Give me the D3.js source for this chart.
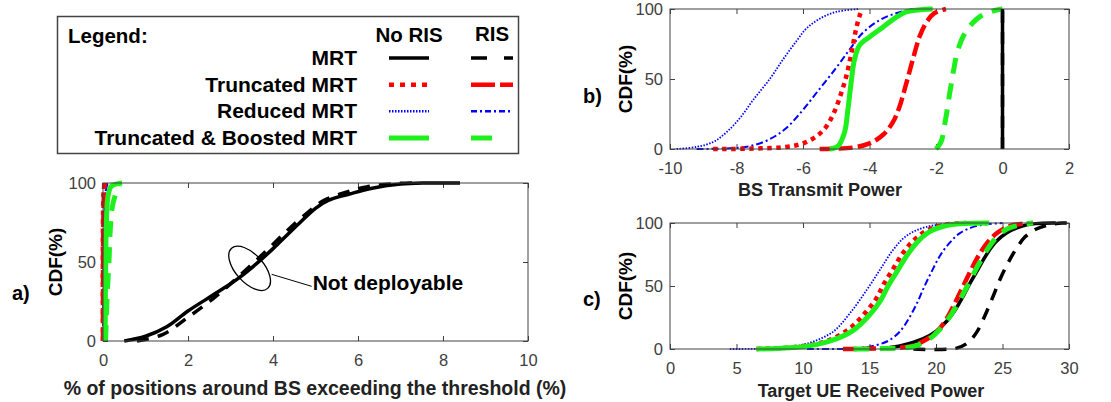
<!DOCTYPE html>
<html>
<head>
<meta charset="utf-8">
<script src="https://d3js.org/d3.v7.min.js"></script>
<style>
  body { margin: 0; background: #fff; }
  text { font-family: "Liberation Sans", Arial, sans-serif; }
</style>
</head>
<body>
<script>
// ---- data ----
var yTicks = [0, 50, 100];
var aXTicks = [0, 2, 4, 6, 8, 10];
var bXTicks = [-10, -8, -6, -4, -2, 0, 2];
var cXTicks = [0, 5, 10, 15, 20, 25, 30];

var legendRows = ["MRT", "Truncated MRT", "Reduced MRT", "Truncated & Boosted MRT"];
var legendCols = ["No RIS", "RIS"];

// a) % of positions exceeding threshold
var aMrt = [[0.5,0],[1.0,3],[1.5,9],[2.0,19],[2.7,31],[3.2,40],[3.7,51],[4.1,61],[4.6,74],[5.0,84],[5.3,89],[5.8,93],[6.3,96.5],[7.0,99.3],[7.6,100],[8.4,100]];
var aMrtRis = [[0.8,0],[1.4,4],[2.0,15],[2.6,27],[3.2,41],[3.8,56],[4.3,69],[4.8,81],[5.2,89],[5.7,94],[6.2,97.5],[6.8,99.5],[7.3,100]];
var aRed = [[0,0],[0.02,70],[0.06,95],[0.1,100]];
var aRedRis = [[0,0],[0.03,75],[0.08,97],[0.12,100]];
var aTrunc = [[0,0],[0,75],[0.02,96],[0.05,100]];
var aTruncRis = [[0,0],[0.01,80],[0.03,100]];
var aTb = [[0.05,0],[0.06,40],[0.08,75],[0.12,92],[0.2,98],[0.45,100]];
var aTbRis = [[0.06,0],[0.1,30],[0.14,50],[0.17,70],[0.22,85],[0.3,93],[0.4,98]];

// b) BS transmit power
var bMrt = [[0,0],[0,100]];
var bMrtRis = [[0,0],[0,100]];
var bRed = [[-9.8,0],[-9.2,1.5],[-8.7,5],[-8.3,12],[-7.9,22],[-7.5,35],[-7.0,50],[-6.6,64],[-6.2,77],[-5.9,86],[-5.5,93],[-5.0,98],[-4.3,100]];
var bRedRis = [[-9.2,0],[-8.2,0.5],[-7.6,2],[-7.0,7],[-6.5,15],[-6.0,28],[-5.5,43],[-5.0,58],[-4.6,71],[-4.2,83],[-3.7,92],[-3.2,97],[-2.7,100]];
var bTrunc = [[-8.7,0],[-7.5,0.3],[-6.5,1.5],[-6.0,4],[-5.6,9],[-5.3,16],[-5.05,27],[-4.85,40],[-4.72,50],[-4.6,62],[-4.5,74],[-4.4,86],[-4.3,95],[-4.22,100]];
var bTruncRis = [[-5.5,0],[-4.5,1],[-4.0,4],[-3.6,10],[-3.3,19],[-3.1,30],[-2.95,42],[-2.8,55],[-2.65,68],[-2.5,80],[-2.3,90],[-2.05,97],[-1.7,100]];
var bTb = [[-5.2,0],[-4.95,2],[-4.75,12],[-4.65,28],[-4.55,48],[-4.45,64],[-4.3,74],[-4.0,80],[-3.6,87],[-3.2,94],[-2.9,98],[-2.4,99.7],[-2.1,100]];
var bTbRis = [[-2.0,0],[-1.85,5],[-1.72,20],[-1.6,38],[-1.48,55],[-1.35,70],[-1.15,82],[-0.9,90],[-0.65,95],[-0.3,98.5],[0,100]];

// c) target UE received power
var cMrt = [[15.8,0],[17.5,3],[19,8],[20,14],[20.8,22],[21.5,32],[22.1,43],[22.6,53],[23.2,64],[23.8,75],[24.5,85],[25.3,92],[26.3,97],[27.5,99.5],[29,100]];
var cMrtRis = [[18.3,0],[21.5,0.5],[22.4,5],[23.1,14],[23.7,27],[24.3,42],[24.8,55],[25.4,68],[26,79],[26.7,89],[27.5,95],[28.5,98.5],[29.5,100],[30,100]];
var cRed = [[4.5,0],[7,0.3],[9.3,2],[10.8,6],[12.3,14],[13.5,28],[14.8,47],[15.8,63],[16.8,79],[17.8,90],[19.3,97],[21.8,100]];
var cRedRis = [[10.3,0],[14,0.5],[15.5,3],[16.5,7],[17.3,14],[18.0,25],[18.6,37],[19.1,49],[19.7,62],[20.3,74],[21.0,84],[21.8,92],[23,97.5],[25,100]];
var cTrunc = [[6.5,0],[9,1.2],[11,4],[12.4,9],[13.6,17],[14.7,29],[15.5,40],[16.1,52],[16.8,64],[17.5,76],[18.3,86],[19.3,94],[20.6,98.5],[22.3,100]];
var cTruncRis = [[13,0],[16,0.5],[18,2],[19,6],[20,13],[20.8,24],[21.4,36],[22,49],[22.6,62],[23.2,74],[23.9,85],[24.7,93],[25.7,98],[27.3,100]];
var cTb = [[6.5,0],[9,1],[11,3.5],[12.5,8],[13.8,15],[15,27],[15.8,38],[16.4,50],[17.1,62],[17.8,74],[18.6,85],[19.5,93],[20.8,98],[22.5,99.7],[24,100]];
var cTbRis = [[13.8,0],[16,0.3],[18.3,2],[19.5,8],[20.5,18],[21.3,30],[22,43],[22.6,55],[23.2,67],[23.8,78],[24.5,88],[25.3,95],[26.3,98.5],[27.3,100]];

// ---- styles ----
var GREEN = "#1ef01e";
var styles = {
  mrt:      { color: "#000", w: 3.5, dash: null,      legDash: null },
  mrtRis:   { color: "#000", w: 3.5, dash: "12,9",    legDash: "16,17" },
  red:      { color: "#0000ff", w: 1.8, dash: "1.5,1.5", legDash: "1.5,1.5" },
  redRis:   { color: "#0000ff", w: 2, dash: "7,3,2,3", legDash: "6,3,2,3" },
  trunc:    { color: "#ff0000", w: 4.5, dash: "4.5,4.5", legDash: "5,6" },
  truncRis: { color: "#ff0000", w: 4.5, dash: "14,5",   legDash: "24,5" },
  tb:       { color: GREEN, w: 5, dash: null,        legDash: null },
  tbRis:    { color: GREEN, w: 5, dash: "16,10",     legDash: "21,22" }
};

var svg = d3.select("body").append("svg")
  .attr("width", 1111).attr("height", 402);

var AX = "#404040";

function drawPanel(p) {
  var x = d3.scaleLinear().domain(p.xdom).range([p.left, p.right]);
  var y = d3.scaleLinear().domain([0, 100]).range([p.bottom, p.top]);
  var g = svg.append("g");
  var plain = function (d) { return String(d); };

  // ticks on all four sides, pointing inwards
  var axes = [
    [d3.axisBottom(x).tickValues(p.xticks).tickSizeInner(-5).tickPadding(13).tickFormat(plain), "translate(0," + p.bottom + ")"],
    [d3.axisTop(x).tickValues(p.xticks).tickSizeInner(-5).tickFormat(""), "translate(0," + p.top + ")"],
    [d3.axisLeft(y).tickValues(yTicks).tickSizeInner(-5).tickPadding(7).tickFormat(plain), "translate(" + p.left + ",0)"],
    [d3.axisRight(y).tickValues(yTicks).tickSizeInner(-5).tickFormat(""), "translate(" + p.right + ",0)"]
  ];
  axes.forEach(function (a) {
    var ag = g.append("g").attr("transform", a[1]).call(a[0].tickSizeOuter(0));
    ag.select(".domain").remove();
    ag.selectAll("line").attr("stroke", AX);
    ag.selectAll("text").attr("fill", AX).style("font-size", "16.5px")
      .style("font-family", "'Liberation Sans', Arial, sans-serif");
  });

  var line = d3.line()
    .x(function (d) { return x(d[0]); })
    .y(function (d) { return y(d[1]); })
    .curve(d3.curveCatmullRom.alpha(0.5));

  p.series.forEach(function (s) {
    var st = styles[s[1]];
    g.append("path")
      .attr("d", line(s[0]))
      .attr("fill", "none")
      .attr("stroke", st.color)
      .attr("stroke-width", st.w)
      .attr("stroke-dasharray", st.dash);
  });

  g.append("rect")
    .attr("x", p.left).attr("y", p.top)
    .attr("width", p.right - p.left).attr("height", p.bottom - p.top)
    .attr("fill", "none").attr("stroke", AX).attr("stroke-width", 1);

  // y title + panel label
  g.append("text")
    .attr("transform", "translate(" + p.yTitleX + "," + (p.top + p.bottom) / 2 + ") rotate(-90)")
    .attr("text-anchor", "middle")
    .style("font-weight", "bold").style("font-size", "19px")
    .text("CDF(%)");
  g.append("text")
    .attr("x", p.labelX).attr("y", p.labelY)
    .style("font-weight", "bold").style("font-size", "20px")
    .text(p.label);
  g.append("text")
    .attr("x", p.xTitleX).attr("y", p.xTitleY)
    .attr("text-anchor", "middle")
    .style("font-weight", "bold").style("font-size", p.xTitleSize + "px")
    .attr("fill", "#222")
    .text(p.xTitle);

  return { g: g, x: x, y: y };
}

var pa = drawPanel({
  left: 103, right: 528, top: 183, bottom: 341, xdom: [0, 10], xticks: aXTicks,
  yTitleX: 62, label: "a)", labelX: 12, labelY: 300,
  xTitle: "% of positions around BS exceeding the threshold (%)", xTitleX: 315, xTitleY: 395, xTitleSize: 19.5,
  series: [[aRed, "red"], [aRedRis, "redRis"], [aTrunc, "trunc"], [aTruncRis, "truncRis"],
           [aTb, "tb"], [aTbRis, "tbRis"], [aMrt, "mrt"], [aMrtRis, "mrtRis"]]
});

drawPanel({
  left: 670, right: 1069, top: 9, bottom: 149, xdom: [-10, 2], xticks: bXTicks,
  yTitleX: 632, label: "b)", labelX: 583, labelY: 103,
  xTitle: "BS Transmit Power", xTitleX: 820, xTitleY: 196, xTitleSize: 18,
  series: [[bMrtRis, "mrtRis"], [bRed, "red"], [bRedRis, "redRis"], [bTrunc, "trunc"],
           [bTruncRis, "truncRis"], [bTb, "tb"], [bTbRis, "tbRis"], [bMrt, "mrt"]]
});

drawPanel({
  left: 670, right: 1069, top: 223, bottom: 349, xdom: [0, 30], xticks: cXTicks,
  yTitleX: 632, label: "c)", labelX: 583, labelY: 306,
  xTitle: "Target UE Received Power", xTitleX: 871, xTitleY: 397, xTitleSize: 18,
  series: [[cRed, "red"], [cRedRis, "redRis"], [cMrt, "mrt"], [cMrtRis, "mrtRis"],
           [cTrunc, "trunc"], [cTb, "tb"], [cTruncRis, "truncRis"], [cTbRis, "tbRis"]]
});

// "Not deployable" annotation on panel a
var cx = pa.x(3.45), cy = pa.y(46);
pa.g.append("ellipse")
  .attr("cx", 0).attr("cy", 0).attr("rx", 27).attr("ry", 14)
  .attr("transform", "translate(" + cx + "," + cy + ") rotate(48)")
  .attr("fill", "none").attr("stroke", "#000").attr("stroke-width", 1.3);
pa.g.append("line")
  .attr("x1", cx + 22).attr("y1", cy + 6).attr("x2", cx + 62).attr("y2", cy + 18)
  .attr("stroke", "#000").attr("stroke-width", 1);
pa.g.append("text")
  .attr("x", cx + 63).attr("y", cy + 22)
  .style("font-weight", "bold").style("font-size", "21px")
  .text("Not deployable");

// ---- legend ----
var leg = svg.append("g");
leg.append("rect")
  .attr("x", 57.5).attr("y", 16.5).attr("width", 461).attr("height", 137)
  .attr("fill", "#fff").attr("stroke", "#444").attr("stroke-width", 1.5);
leg.append("text").attr("x", 68).attr("y", 43)
  .style("font-weight", "bold").style("font-size", "20.5px").text("Legend:");

var colX = [409, 492];
var colY = [42, 41];
legendCols.forEach(function (c, i) {
  leg.append("text").attr("x", colX[i]).attr("y", colY[i])
    .attr("text-anchor", "middle")
    .style("font-weight", "bold").style("font-size", "20.5px").text(c);
});

var rowY = d3.scalePoint().domain(legendRows).range([65, 145]);
var legKeys = [["mrt", "mrtRis"], ["trunc", "truncRis"], ["red", "redRis"], ["tb", "tbRis"]];
var sampleX = [[389, 429], [471, 513]];
legendRows.forEach(function (r, i) {
  var by = rowY(r);
  leg.append("text").attr("x", 357).attr("y", by)
    .attr("text-anchor", "end")
    .style("font-weight", "bold").style("font-size", "21px").text(r);
  legKeys[i].forEach(function (k, j) {
    var st = styles[k];
    leg.append("line")
      .attr("x1", sampleX[j][0]).attr("x2", sampleX[j][1])
      .attr("y1", by - 7).attr("y2", by - 7)
      .attr("stroke", st.color)
      .attr("stroke-width", Math.max(st.w, 2.5))
      .attr("stroke-dasharray", st.legDash);
  });
});
</script>
</body>
</html>
